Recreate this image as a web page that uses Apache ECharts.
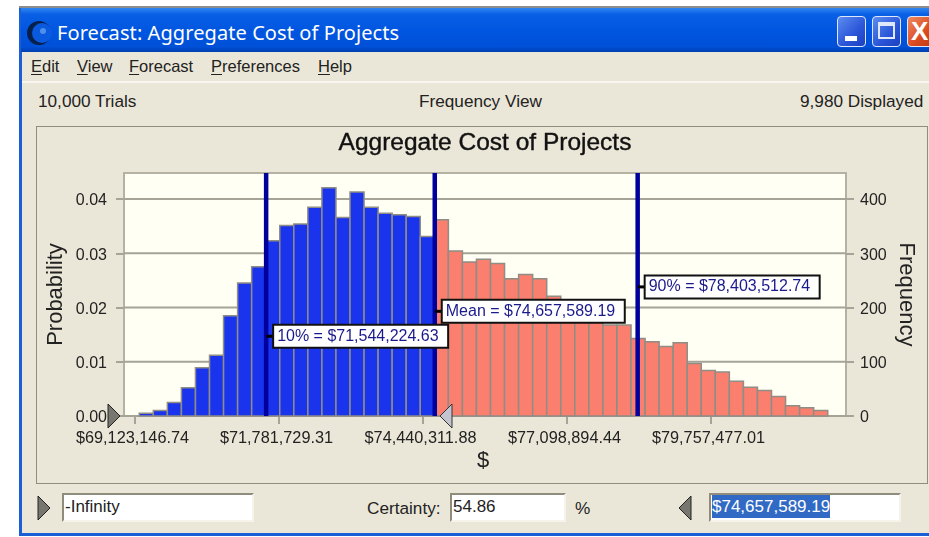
<!DOCTYPE html>
<html>
<head>
<meta charset="utf-8">
<title>Forecast: Aggregate Cost of Projects</title>
<script src="https://cdn.jsdelivr.net/npm/echarts@6/dist/echarts.min.js"></script>
<style>
  html, body { margin: 0; padding: 0; background: #fff; }
  body { width: 929px; height: 537px; overflow: hidden; position: relative; font-family: "Liberation Sans", sans-serif; color: #222; }
  .abs { position: absolute; white-space: nowrap; }
  #win { left: 19px; top: 6px; width: 912px; height: 530px; background: #ebe7d8; box-shadow: inset 3px 0 0 #1a5fd6, inset 0 -3px 0 #1a5fd6; border-top: 2px solid #8d8d8d; box-sizing: border-box; }
  #titlebar { left: 21px; top: 8px; width: 908px; height: 44px; background: linear-gradient(#2f86f0 0, #0a5fe6 14%, #0055e0 55%, #0050d8 88%, #0040b0 100%); }
  #titletext { left: 57px; top: 20px; font: 20px "Noto Sans", sans-serif; color: #fff; line-height: 26px; letter-spacing: 0.08px; }
  .btn { top: 16px; height: 29px; border: 1.5px solid #dfe8fb; border-radius: 4px; box-sizing: content-box; background: linear-gradient(135deg, #5c8df0, #2a55d8 60%, #1c3fc0); }
  .menu { top: 56px; font: 16.5px "Liberation Sans", sans-serif; line-height: 20px; }
  .menu u { text-underline-offset: 2px; }
  .stat { top: 91px; font: 17.2px "Liberation Sans", sans-serif; line-height: 20px; }
  #panel { left: 36px; top: 126px; width: 892px; height: 358px; border: 1.5px solid #8f8d80; box-sizing: border-box; }
  .box { top: 493px; height: 29px; background: #fff; box-sizing: border-box; border: 2px solid #f5f3ea; border-top-color: #8f8c7e; border-left-color: #8f8c7e; font: 17px "Liberation Sans", sans-serif; line-height: 24px; padding-left: 1px; }
  .tri { top: 495px; width: 14px; height: 26px; border: 0; }
  #chart { left: 0; top: 0; width: 929px; height: 537px; }
</style>
</head>
<body>
<div id="win" class="abs"></div>
<div id="titlebar" class="abs"></div>
<svg class="abs" style="left:25px;top:20px" width="28" height="26" viewBox="0 0 28 26">
  <circle cx="14" cy="13" r="12" fill="#06204c"/>
  <circle cx="17" cy="13" r="10" fill="#0a5ae0"/>
  <circle cx="18" cy="11" r="3" fill="#4f90ea"/>
</svg>
<div id="titletext" class="abs">Forecast: Aggregate Cost of Projects</div>
<div class="abs btn" style="left:837px;width:27px"><div class="abs" style="left:7px;top:19px;width:12px;height:5px;background:#fff"></div></div>
<div class="abs btn" style="left:872px;width:27px"><div class="abs" style="left:5px;top:5px;width:17px;height:17px;border:2px solid #dfe8fb;border-top-width:4px;box-sizing:border-box"></div></div>
<div class="abs btn" style="left:907px;width:27px;background:linear-gradient(135deg,#ee8a60,#d9481f 60%,#c23a12);color:#fff;font:bold 26px 'Liberation Sans';line-height:28px;text-indent:3px">X</div>

<div class="abs menu" style="left:31px"><u>E</u>dit</div>
<div class="abs menu" style="left:77px"><u>V</u>iew</div>
<div class="abs menu" style="left:129px"><u>F</u>orecast</div>
<div class="abs menu" style="left:211px"><u>P</u>references</div>
<div class="abs menu" style="left:318px"><u>H</u>elp</div>
<div class="abs" style="left:22px;top:81px;width:907px;height:1.5px;background:#f8f6ee"></div>

<div class="abs stat" style="left:38px">10,000 Trials</div>
<div class="abs stat" style="left:419px">Frequency View</div>
<div class="abs stat" style="left:800px">9,980 Displayed</div>
<div id="panel" class="abs"></div>

<svg class="abs tri" style="left:37px" viewBox="0 0 14 26"><polygon points="1,1 13,13 1,25" fill="#77776f" stroke="#222" stroke-width="1"/></svg>
<div class="abs box" style="left:62px;width:192px">-Infinity</div>
<div class="abs stat" style="left:367px;top:498px">Certainty:</div>
<div class="abs box" style="left:450px;width:116px">54.86</div>
<div class="abs stat" style="left:575px;top:498px">%</div>
<svg class="abs tri" style="left:678px" viewBox="0 0 14 26"><polygon points="13,1 1,13 13,25" fill="#77776f" stroke="#222" stroke-width="1"/></svg>
<div class="abs box" style="left:709px;width:192px"><span style="background:#316ac5;color:#fff;padding:2px 0">$74,657,589.19</span></div>

<div id="chart" class="abs"></div>

<script>
// frequency of each histogram bin
const blueFreq = [5, 10, 25, 52, 89, 112, 185, 245, 275, 323, 351, 354, 385, 421, 366, 413, 385, 374, 371, 368, 331];
const redFreq = [362, 304, 284, 289, 281, 253, 261, 253, 221, 208, 196, 180, 168, 168, 143, 137, 128, 135, 97, 84, 81, 64, 53, 47, 36, 19, 15, 10];

const firstBinStart = 69202000;
const binWidth = 259390;

const xTicks = [69123146.74, 71781729.31, 74440311.88, 77098894.44, 79757477.01];
const xMin = 68920064;
const xMax = 82249700;

const freqMax = 448;
const probTicks = [0, 0.01, 0.02, 0.03, 0.04];
const freqTicks = [0, 100, 200, 300, 400];

const markerNames = ["10%", "Mean", "90%"];
const markerValues = [71544224.63, 74657589.19, 78403512.74];
const markerLabelFreq = [147, 193, 238];
const markerWidths = [166, 174, 166];

const blue = "#1a33ec";
const red = "#fb7f6e";
const gridGray = "#a6a397";

function money(v) {
  return "$" + v.toLocaleString("en-US", { minimumFractionDigits: 2, maximumFractionDigits: 2 });
}

const freqs = blueFreq.concat(redFreq);
const bins = freqs.map((f, i) => [
  firstBinStart + i * binWidth,
  firstBinStart + (i + 1) * binWidth,
  f,
  i < blueFreq.length ? blue : red,
]);

const myChart = echarts.init(document.getElementById("chart"));
const font = "Liberation Sans";

const option = {
  animation: false,
  backgroundColor: "transparent",
  textStyle: { fontFamily: font },
  title: {
    text: "Aggregate Cost of Projects",
    left: 480,
    top: 126,
    textAlign: "center",
    textStyle: { fontFamily: font, fontSize: 24.5, fontWeight: "normal", color: "#111", textBorderColor: "#111", textBorderWidth: 0.4 },
  },
  grid: {
    show: true,
    left: 124,
    right: 83,
    top: 173,
    bottom: 121,
    backgroundColor: "#fffff3",
    borderColor: "#b5b2a4",
    borderWidth: 2,
  },
  xAxis: {
    type: "value",
    min: xMin,
    max: xMax,
    name: "$",
    nameLocation: "middle",
    nameGap: 34,
    nameMoveOverlap: false,
    nameTextStyle: { fontSize: 22, color: "#222", padding: [0, 4, 0, 0] },
    splitLine: { show: false },
    axisLine: { lineStyle: { color: gridGray, width: 2 } },
    axisTick: { show: true, length: 8, customValues: xTicks, lineStyle: { color: gridGray, width: 2 } },
    axisLabel: { customValues: xTicks, formatter: money, fontSize: 16.3, color: "#222", margin: 15, padding: [0, 5, 0, 0], hideOverlap: false },
  },
  yAxis: [
    {
      type: "value",
      position: "left",
      min: 0,
      max: freqMax / 10000,
      name: "Probability",
      nameLocation: "middle",
      nameGap: 57,
      nameMoveOverlap: false,
      nameTextStyle: { fontSize: 22, color: "#222" },
      axisLine: { show: false },
      axisTick: { show: true, length: 8, customValues: probTicks, lineStyle: { color: gridGray, width: 2 } },
      axisLabel: { customValues: probTicks, formatter: (v) => v.toFixed(2), fontSize: 16, color: "#222", margin: 17, verticalAlign: "top", lineHeight: 4 },
      splitLine: { show: false },
    },
    {
      type: "value",
      position: "right",
      min: 0,
      max: freqMax,
      name: "Frequency",
      nameLocation: "middle",
      nameGap: 49,
      nameMoveOverlap: false,
      nameRotate: -90,
      nameTextStyle: { fontSize: 22, color: "#222" },
      axisLine: { show: false },
      axisTick: { show: true, length: 8, customValues: freqTicks, lineStyle: { color: gridGray, width: 2 } },
      axisLabel: { customValues: freqTicks, fontSize: 16, color: "#222", margin: 14, verticalAlign: "top", lineHeight: 4 },
      splitLine: { show: false },
    },
  ],
  series: [
    {
      // horizontal grid lines, drawn under the bars
      type: "custom",
      yAxisIndex: 1,
      silent: true,
      z: 1,
      data: freqTicks.slice(1),
      encode: { y: 0 },
      renderItem: (params, api) => {
        const p1 = api.coord([xMin, api.value(0)]);
        const p2 = api.coord([xMax, api.value(0)]);
        return {
          type: "line",
          shape: { x1: p1[0], y1: p1[1], x2: p2[0], y2: p2[1] },
          style: { stroke: gridGray, lineWidth: 2 },
        };
      },
    },
    {
      type: "custom",
      name: "Frequency",
      yAxisIndex: 1,
      z: 2,
      data: bins,
      encode: { x: [0, 1], y: 2 },
      renderItem: (params, api) => {
        const a = api.coord([api.value(0), 0]);
        const b = api.coord([api.value(1), api.value(2)]);
        return {
          type: "rect",
          shape: { x: a[0], y: b[1], width: b[0] - a[0], height: a[1] - b[1] },
          style: { fill: bins[params.dataIndex][3], stroke: "#8f8d85", lineWidth: 1.5 },
        };
      },
    },
    {
      // percentile and mean lines
      type: "custom",
      yAxisIndex: 1,
      z: 3,
      data: markerValues,
      encode: { x: 0 },
      renderItem: (params, api) => {
        const p1 = api.coord([api.value(0), 0]);
        const p2 = api.coord([api.value(0), freqMax]);
        return {
          type: "line",
          shape: { x1: p1[0], y1: p1[1], x2: p2[0], y2: p2[1] },
          style: { stroke: "#00009c", lineWidth: 4.5 },
        };
      },
    },
    {
      // boxed labels with the little black lead
      type: "scatter",
      yAxisIndex: 1,
      z: 4,
      symbol: "rect",
      symbolSize: [8, 3],
      symbolOffset: [4, 0],
      itemStyle: { color: "#000", opacity: 1 },
      data: markerValues.map((v, i) => ({
        value: [v, markerLabelFreq[i]],
        label: {
          show: true,
          position: "right",
          distance: 0,
          formatter: markerNames[i] + " = " + money(v),
          fontSize: 16,
          color: "#1a1a8c",
          backgroundColor: "#fff",
          borderColor: "#111",
          borderWidth: 2,
          width: markerWidths[i],
          padding: [2, 4, 1, 3],
          lineHeight: 18,
        },
      })),
    },
  ],
  graphic: [
    {
      // lower and upper certainty grabbers
      type: "polygon",
      z: 100,
      shape: { points: [[108, 404], [120, 416], [108, 428]] },
      style: { fill: "#77776f", stroke: "#222", lineWidth: 1 },
    },
    {
      type: "polygon",
      z: 100,
      shape: { points: [[452, 404], [440, 416], [452, 428]] },
      style: { fill: "#c4c4d0", stroke: "#333", lineWidth: 1 },
    },
  ],
};

option && myChart.setOption(option);
</script>
</body>
</html>
